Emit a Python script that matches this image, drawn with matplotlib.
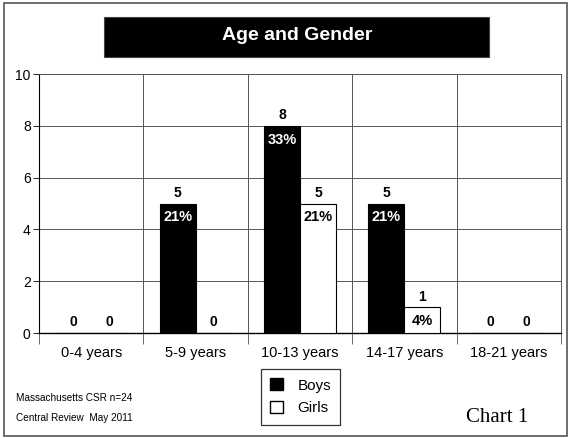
import matplotlib.pyplot as plt
import numpy as np
from matplotlib.patches import Rectangle, Patch

plt.rcParams["font.family"] = ["Liberation Sans", "DejaVu Sans"]

# Counts by age group
age_groups = ["0-4 years", "5-9 years", "10-13 years", "14-17 years", "18-21 years"]
boys = [0, 5, 8, 5, 0]
girls = [0, 0, 5, 1, 0]
total_n = 24

fig = plt.figure(figsize=(5.71, 4.38), dpi=100)
ax = fig.add_axes([0.0683, 0.2397, 0.9142, 0.5913])

x = np.arange(len(age_groups))
w = 0.345
ax.bar(x - w / 2, boys, w, color="black", edgecolor="black", linewidth=0.8, zorder=3)
ax.bar(x + w / 2, girls, w, color="white", edgecolor="black", linewidth=0.8, zorder=3)

ax.set_xlim(-0.5, len(age_groups) - 0.5)
ax.set_ylim(0, 10)
ax.set_yticks(range(0, 11, 2))
ax.tick_params(axis="y", labelsize=10, length=4, width=0.6, pad=2)

# category dividers as x ticks, labels at centers
ax.set_xticks(np.arange(len(age_groups) + 1) - 0.5)
ax.set_xticklabels([])
ax.tick_params(axis="x", length=8, width=0.6, color="#555555")
ax.set_xticks(x, minor=True)
ax.set_xticklabels(age_groups, minor=True, fontsize=10.5)
ax.tick_params(axis="x", which="minor", length=0, pad=9)

ax.grid(True, which="major", color="#555555", linewidth=0.7, zorder=0)
for side in ["top", "right"]:
    ax.spines[side].set_color("#555555")
    ax.spines[side].set_linewidth(0.7)
ax.spines["left"].set_linewidth(0.8)
ax.spines["bottom"].set_linewidth(1.0)

# count above each bar, share of total inside it, zeros on the baseline
for off, vals, fill in [(-w / 2, boys, "black"), (w / 2, girls, "white")]:
    for xi, v in zip(x + off, vals):
        if v == 0:
            ax.annotate("0", (xi, 0), xytext=(0, 8), textcoords="offset points",
                        ha="center", va="center", fontsize=10, fontweight="bold", zorder=5)
            continue
        ax.annotate(str(v), (xi, v), xytext=(0, 7.5), textcoords="offset points",
                    ha="center", va="center", fontsize=10, fontweight="bold", zorder=5)
        ax.annotate(f"{round(100 * v / total_n)}%", (xi, v), xytext=(0, -10),
                    textcoords="offset points", ha="center", va="center",
                    fontsize=10.5, fontweight="bold",
                    color="white" if fill == "black" else "black", zorder=5)

# title banner
fig.patches.append(Rectangle((0.182, 0.870), 0.674, 0.0913, transform=fig.transFigure,
                             facecolor="black", edgecolor="#444444", linewidth=0.8))
fig.text(0.52, 0.918, "Age and Gender", color="white", fontsize=14,
         fontweight="bold", ha="center", va="center")

# outer frame
fig.patches.append(Rectangle((0.007, 0.005), 0.986, 0.988, transform=fig.transFigure,
                             facecolor="none", edgecolor="#555555", linewidth=1.2))

handles = [Patch(facecolor="black", edgecolor="black", label="Boys"),
           Patch(facecolor="white", edgecolor="black", label="Girls")]
leg = fig.legend(handles=handles, loc="upper left", bbox_to_anchor=(0.457, 0.1575),
                 borderaxespad=0, frameon=True, fancybox=False, edgecolor="black",
                 fontsize=11, handlelength=0.85, handleheight=0.85, labelspacing=0.55,
                 borderpad=0.6, handletextpad=0.95)
leg.get_frame().set_linewidth(0.9)

fig.text(0.028, 0.091, "Massachusetts CSR n=24", fontsize=7.2, va="center")
fig.text(0.028, 0.046, "Central Review  May 2011", fontsize=7.2, va="center")
fig.text(0.816, 0.047, "Chart 1", fontsize=15, va="center",
         family=["Liberation Serif", "DejaVu Serif"])

fig.savefig("out.png", dpi=100)
